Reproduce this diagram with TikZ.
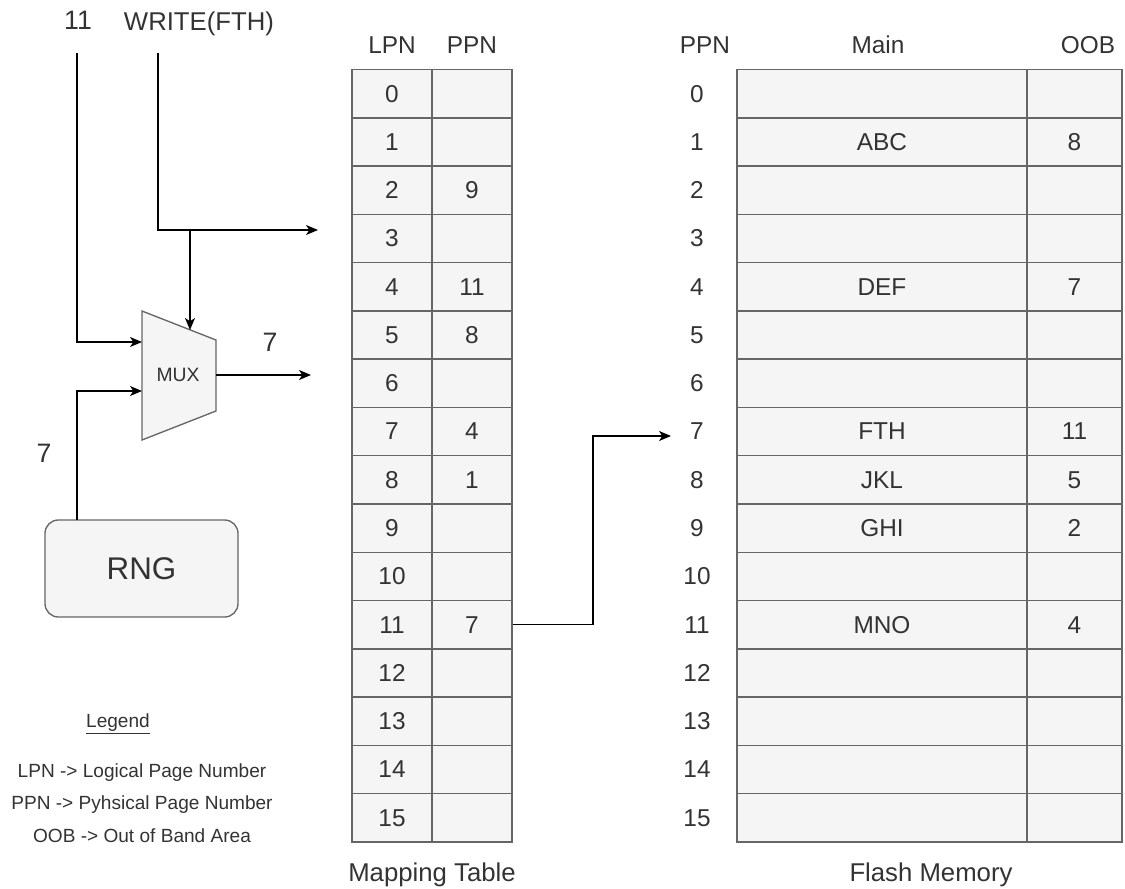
\documentclass[tikz,border=0pt]{standalone}
\usepackage{fontspec}
\setmainfont{Liberation Sans}
\usetikzlibrary{arrows.meta}
\definecolor{cellfill}{HTML}{F5F5F5}
\definecolor{cellline}{HTML}{666666}
\definecolor{txt}{HTML}{333333}
\begin{document}
\begin{tikzpicture}[x=0.75pt,y=-0.75pt,
  cell/.style={draw=cellline, fill=cellfill, line width=1.1pt, inner sep=0pt,
    minimum height=36.21pt, text=txt, font=\fontsize{18.3}{20}\selectfont},
  lbl/.style={text=txt, inner sep=0pt, font=\fontsize{18.3}{20}\selectfont},
  captext/.style={text=txt, inner sep=0pt, font=\fontsize{19.3}{21}\selectfont},
  big/.style={text=txt, inner sep=0pt, font=\fontsize{20}{22}\selectfont},
  wr/.style={text=txt, inner sep=0pt, font=\fontsize{19.3}{21}\selectfont},
  leg/.style={text=txt, inner sep=0pt, font=\fontsize{14.3}{16}\selectfont},
  conn/.style={draw=black, line width=1pt},
  arr/.style={conn, -{Stealth[length=9pt,width=7.5pt,inset=2.5pt]}}]
\useasboundingbox (0,0) rectangle (1125,889);

% Mapping table
\node[lbl] (hlpn) at (392,45) {LPN};
\node[lbl] (hppn) at (472,45) {PPN};
\foreach \i/\v in {0/,1/,2/9,3/,4/11,5/8,6/,7/4,8/1,9/,10/,11/7,12/,13/,14/,15/} {
  \node[cell, minimum width=60pt] (l\i) at (392,{93.64+48.28*\i}) {\i};
  \node[cell, minimum width=60pt] (p\i) at (472,{93.64+48.28*\i}) {\v};
}
\node[captext] (capmap) at (432,875) {Mapping Table};

% Flash memory
\node[lbl] (hfppn) at (705,45) {PPN};
\node[lbl] (hmain) at (878,45) {Main};
\node[lbl] (hoob) at (1088,45) {OOB};
\foreach \i/\m/\o in {0//,1/ABC/8,2//,3//,4/DEF/7,5//,6//,7/FTH/11,8/JKL/5,9/GHI/2,10//,11/MNO/4,12//,13//,14//,15//} {
  \node[lbl] (f\i) at (697,{93.64+48.28*\i}) {\i};
  \node[cell, minimum width=217.5pt] (m\i) at (882,{93.64+48.28*\i}) {\m};
  \node[cell, minimum width=71.25pt] (o\i) at (1074.5,{93.64+48.28*\i}) {\o};
}
\node[captext] (capflash) at (931,875) {Flash Memory};

% MUX
\coordinate (muxA) at (142,311);
\coordinate (muxB) at (216,340);
\coordinate (muxC) at (216,411);
\coordinate (muxD) at (142,440);
\draw[draw=cellline, fill=cellfill, line width=1pt] (muxA) -- (muxB) -- (muxC) -- (muxD) -- cycle;
\node[text=txt, font=\fontsize{14.5}{16}\selectfont] (mux) at (178,375) {MUX};

% RNG
\node[draw=cellline, fill=cellfill, rounded corners=10pt, line width=1pt,
  minimum width=144.75pt, minimum height=72.75pt, text=txt,
  font=\fontsize{23.5}{26}\selectfont] (rng) at (141.5,568.5) {RNG};

% labels
\node[big] (t11) at (78,20) {11};
\node[wr] (tw) at (199,24) {WRITE(FTH)};
\node[big] (t7a) at (270,342) {7};
\node[big] (t7b) at (44,453) {7};

% connectors
\coordinate (s11) at (77,53);
\coordinate (m11) at (142,342);
\draw[arr] (s11) |- (m11);
\coordinate (sw) at (158,53);
\coordinate (e3) at (318,230);
\draw[arr] (sw) |- (e3);
\coordinate (br) at (190,230);
\coordinate (mtop) at (190,330);
\draw[arr] (br) -- (mtop);
\coordinate (mout) at (216,375);
\coordinate (e6) at (311,375);
\draw[arr] (mout) -- (e6);
\coordinate (rngtop) at (77,520);
\coordinate (mrng) at (142,391);
\draw[arr] (rngtop) |- (mrng);
\coordinate (f7in) at (671,436);
\draw[arr] (p11.east) -| (593,436) -- (f7in);

% legend
\node[leg] (lg) at (118,724) {\underline{Legend}};
\node[leg] (lg1) at (142,773) {LPN -> Logical Page Number};
\node[leg] (lg2) at (142,805) {PPN -> Pyhsical Page Number};
\node[leg] (lg3) at (142,836) {OOB -> Out of Band Area};
\end{tikzpicture}
\end{document}
